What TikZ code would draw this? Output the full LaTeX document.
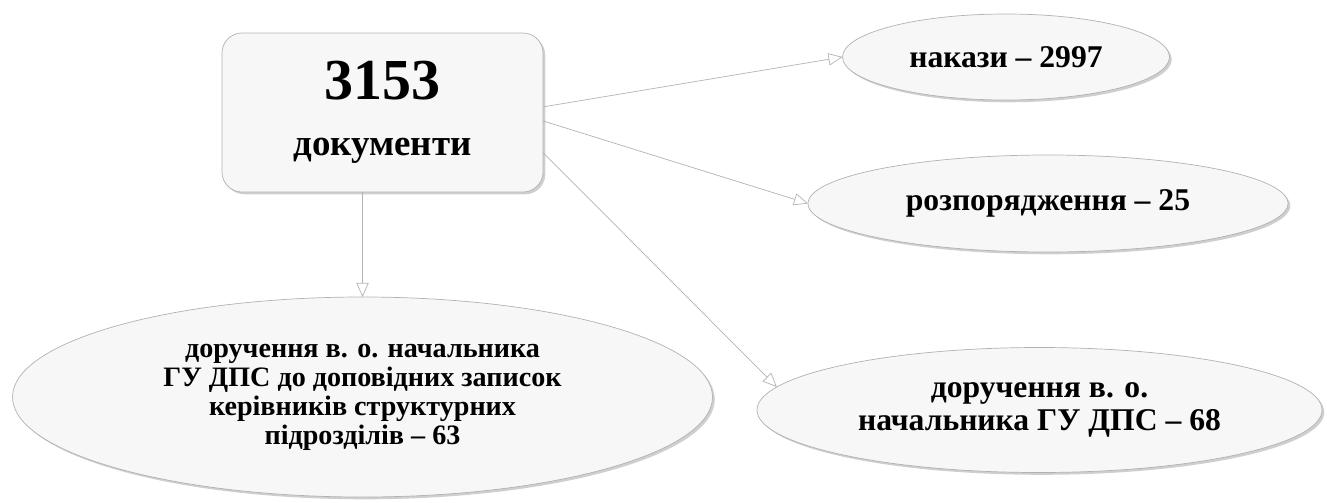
\documentclass[tikz,border=0pt]{standalone}
\usepackage{fontspec}
\setmainfont{Liberation Serif}
\usetikzlibrary{shapes.geometric,shadows,arrows.meta}
\begin{document}
\begin{tikzpicture}[inner sep=0pt,outer sep=0pt,thin,
>={Triangle[open,length=8pt,width=7pt]},
docbox/.style={draw=gray!60,fill=gray!6,rounded corners=0.4cm,minimum width=6.42cm,minimum height=3.18cm,align=center,
  font=\fontsize{21}{32}\selectfont\bfseries,
  drop shadow={shadow xshift=1.3pt,shadow yshift=-1.3pt,fill=gray!75}},
docell/.style={draw=gray!60,fill=gray!6,ellipse,align=center,font=\fontsize{18}{19}\selectfont\bfseries,
  drop shadow={shadow xshift=1.3pt,shadow yshift=-1.3pt,fill=gray!75}},
link/.style={draw=gray!60,->}]
\useasboundingbox (0,0) rectangle (26.54,-10.04);
\draw (7.65,-2.25) node[docbox] (total) {{\fontsize{33}{33}\selectfont 3153}\\документи};
\draw (20.12,-1.14) node[docell,minimum width=6.54cm,minimum height=1.72cm] (nakazy) {накази -- 2997};
\draw (20.96,-4.07) node[docell,minimum width=9.6cm,minimum height=1.94cm] (rozp) {розпорядження -- 25};
\draw (20.79,-8.2) node[docell,minimum width=11.3cm,minimum height=2.5cm] (doruch) {доручення в. о.\\начальника ГУ ДПС -- 68};
\draw (7.25,-7.94) node[docell,minimum width=14cm,minimum height=4cm,font=\fontsize{16}{16.5}\selectfont\bfseries] (zapys)
  {доручення в. о. начальника\\ГУ ДПС до доповідних записок\\керівників структурних\\підрозділів -- 63};
\draw[link] (total.2) -- (nakazy.west);
\draw[link] (total.-3) -- (rozp.west);
\draw[link] (total.-14) -- (doruch.175);
\draw[link] (zapys.north |- total.south) -- (zapys.north);
\end{tikzpicture}
\end{document}
